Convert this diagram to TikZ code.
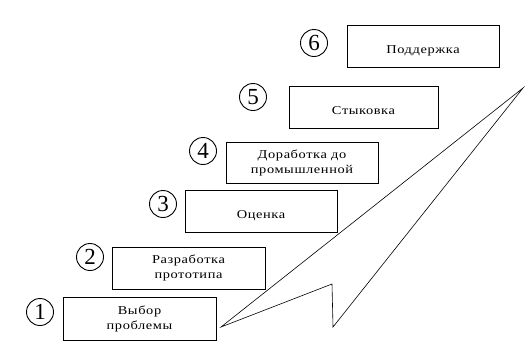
\documentclass[tikz,border=0pt]{standalone}
\usepackage{fontspec}
\setmainfont{Liberation Serif}
\newfontfamily\stepfont[LetterSpace=5, FakeStretch=1.2]{Liberation Serif}
\begin{document}
\begin{tikzpicture}[x=1pt, y=-1pt,
    stepbox/.style={draw, line width=0.9pt, align=center, inner sep=0pt,
      font=\stepfont\fontsize{12}{15}\selectfont},
    oneline/.style={text height=18pt, text depth=2.5pt},
    stepnum/.style={draw, circle, line width=0.9pt, minimum size=27pt, inner sep=0pt,
      font=\fontsize{23}{23}\selectfont}]
  \useasboundingbox (0,0) rectangle (527,346);

  % Steps
  \node[stepbox, minimum width=153pt, minimum height=43pt] (box1) at (139.5,318.5) {Выбор\\проблемы};
  \node[stepbox, minimum width=153pt, minimum height=42pt] (box2) at (188.5,268) {Разработка\\прототипа};
  \node[stepbox, oneline, minimum width=152pt, minimum height=42pt] (box3) at (261,211) {Оценка};
  \node[stepbox, minimum width=152pt, minimum height=41pt] (box4) at (302,162.5) {Доработка до\\промышленной};
  \node[stepbox, oneline, minimum width=149pt, minimum height=42pt] (box5) at (363.5,107) {Стыковка};
  \node[stepbox, oneline, minimum width=152pt, minimum height=42pt] (box6) at (423,46) {Поддержка};

  % Numbers
  \node[stepnum] (num1) at (40,312) {1};
  \node[stepnum] (num2) at (90,257) {2};
  \node[stepnum] (num3) at (163,204) {3};
  \node[stepnum] (num4) at (203,151) {4};
  \node[stepnum] (num5) at (253,97) {5};
  \node[stepnum] (num6) at (314,43) {6};

  % Big arrow
  \coordinate (tip) at (523,88);
  \coordinate (tail) at (221,327);
  \coordinate (notchtop) at (332,284);
  \coordinate (notchbot) at (333,327);
  \draw[line width=0.6pt] (tip) -- (tail) -- (notchtop) -- (notchbot) -- cycle;
\end{tikzpicture}
\end{document}
